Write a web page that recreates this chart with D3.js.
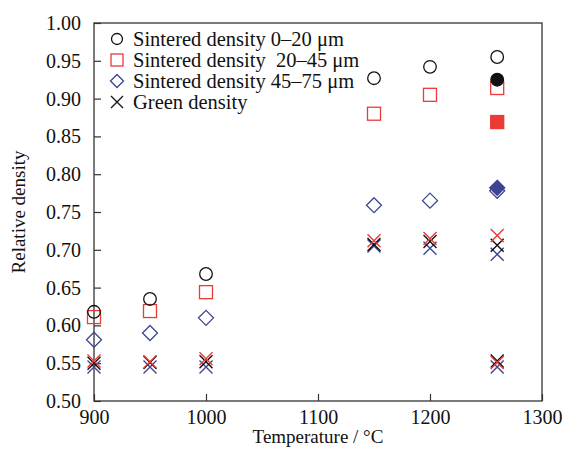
<html>
<head>
<meta charset="utf-8">
<script src="https://d3js.org/d3.v7.min.js"></script>
<style>
  body { margin: 0; background: #fff; }
  svg text { font-family: "Liberation Serif", "Times New Roman", serif !important; fill: #111; }
</style>
</head>
<body>
<div id="chart"></div>
<script>

// Sintering temperatures (°C)
var temps = [900, 950, 1000, 1150, 1200, 1260];

// Sintered density series (open markers)
var fine   = [0.618, 0.635, 0.668, 0.927, 0.942, 0.955];   // 0–20 µm
var medium = [0.611, 0.619, 0.644, 0.880, 0.905, 0.914];   // 20–45 µm
var coarse = [0.581, 0.590, 0.610, 0.759, 0.765, 0.778];   // 45–75 µm

// Filled markers at 1260 °C
var filledTemp = [1260];
var fineFilled = [0.925];
var mediumFilled = [0.869];
var coarseFilled = [0.782];

// Green density (crosses), one colour per powder
var greenTemps  = [900, 950, 1000, 1150, 1200, 1260, 1260];
var greenFine   = [0.550, 0.551, 0.552, 0.707, 0.711, 0.706, 0.553];
var greenMedium = [0.553, 0.552, 0.556, 0.712, 0.715, 0.719, 0.551];
var greenCoarse = [0.545, 0.545, 0.545, 0.705, 0.702, 0.694, 0.545];

var xTicks = [900, 1000, 1100, 1200, 1300];
var yTicks = [0.50, 0.55, 0.60, 0.65, 0.70, 0.75, 0.80, 0.85, 0.90, 0.95, 1.00];

var legendLabels = ["Sintered density 0\u201320 \u03bcm", "Sintered density\u00a0 20\u201345 \u03bcm",
                    "Sintered density 45\u201375 \u03bcm", "Green density"];

var black = "#111", red = "#ec3a35", blue = "#3d4592";
var serif = "'Liberation Serif', 'Times New Roman', serif";

var margin = {top: 23, right: 21, bottom: 49, left: 94};
var width = 563 - margin.left - margin.right;
var height = 450 - margin.top - margin.bottom;

var svg = d3.select("#chart")
  .append("svg")
    .attr("width", 563)
    .attr("height", 450)
  .append("g")
    .attr("transform", "translate(" + margin.left + "," + margin.top + ")");

var x = d3.scaleLinear().domain([900, 1300]).range([0, width]);
var y = d3.scaleLinear().domain([0.5, 1.0]).range([height, 0]);

// Axes (ticks point inward)
var xAxis = svg.append("g")
  .attr("transform", "translate(0," + height + ")")
  .call(d3.axisBottom(x).tickValues(xTicks).tickSize(-7).tickPadding(9).tickFormat(d3.format("d")));
var yAxis = svg.append("g")
  .call(d3.axisLeft(y).tickValues(yTicks).tickSize(-7).tickPadding(13).tickFormat(d3.format(".2f")));

[xAxis, yAxis].forEach(function(a) {
  a.attr("font-family", null).attr("font-size", null);
  a.select(".domain").remove();
  a.selectAll("line").attr("stroke", "#333").attr("stroke-width", 1.2);
  a.selectAll("text").attr("fill", "#111")
    .style("font-family", serif).style("font-size", "20px");
});

// frame
svg.append("rect")
  .attr("width", width).attr("height", height)
  .attr("fill", "none").attr("stroke", "#333").attr("stroke-width", 1.3);

// axis titles
svg.append("text")
  .attr("x", width / 2).attr("y", height + 42)
  .attr("text-anchor", "middle").style("font-size", "19px")
  .text("Temperature / \u00b0C");
svg.append("text")
  .attr("transform", "translate(-69," + (height / 2) + ")rotate(-90)")
  .attr("text-anchor", "middle").style("font-size", "19px")
  .text("Relative density");

// marker helpers
function circles(xs, ys, color, filled) {
  svg.append("g").selectAll("circle").data(ys).enter().append("circle")
    .attr("cx", function(d, i) { return x(xs[i]); })
    .attr("cy", function(d) { return y(d); })
    .attr("r", 6.3)
    .attr("fill", filled ? color : "none")
    .attr("stroke", color).attr("stroke-width", 1.3);
}
function squares(xs, ys, color, filled) {
  var s = 13;
  svg.append("g").selectAll("rect").data(ys).enter().append("rect")
    .attr("x", function(d, i) { return x(xs[i]) - s / 2; })
    .attr("y", function(d) { return y(d) - s / 2; })
    .attr("width", s).attr("height", s)
    .attr("fill", filled ? color : "none")
    .attr("stroke", color).attr("stroke-width", 1.3);
}
function diamonds(xs, ys, color, filled) {
  var h = 7.5;
  svg.append("g").selectAll("path").data(ys).enter().append("path")
    .attr("transform", function(d, i) { return "translate(" + x(xs[i]) + "," + y(d) + ")"; })
    .attr("d", "M0," + (-h) + "L" + h + ",0L0," + h + "L" + (-h) + ",0Z")
    .attr("fill", filled ? color : "none")
    .attr("stroke", color).attr("stroke-width", 1.3);
}
function crosses(xs, ys, color) {
  var h = 6.5;
  svg.append("g").selectAll("path").data(ys).enter().append("path")
    .attr("transform", function(d, i) { return "translate(" + x(xs[i]) + "," + y(d) + ")"; })
    .attr("d", "M" + (-h) + "," + (-h) + "L" + h + "," + h + "M" + h + "," + (-h) + "L" + (-h) + "," + h)
    .attr("fill", "none")
    .attr("stroke", color).attr("stroke-width", 1.4);
}

crosses(greenTemps, greenCoarse, blue);
crosses(greenTemps, greenFine, black);
crosses(greenTemps, greenMedium, red);

diamonds(temps, coarse, blue, false);
diamonds(filledTemp, coarseFilled, blue, true);
squares(temps, medium, red, false);
squares(filledTemp, mediumFilled, red, true);
circles(temps, fine, black, false);
circles(filledTemp, fineFilled, black, true);

// legend
var legend = svg.append("g").attr("transform", "translate(23,16)");
var rowH = 21;
legendLabels.forEach(function(label, i) {
  var g = legend.append("g").attr("transform", "translate(0," + (i * rowH) + ")");
  if (i === 0) g.append("circle").attr("r", 5.5).attr("fill", "none").attr("stroke", black).attr("stroke-width", 1.3);
  if (i === 1) g.append("rect").attr("x", -6).attr("y", -6).attr("width", 12).attr("height", 12).attr("fill", "none").attr("stroke", red).attr("stroke-width", 1.3);
  if (i === 2) g.append("path").attr("d", "M0,-6.5L6.5,0L0,6.5L-6.5,0Z").attr("fill", "none").attr("stroke", blue).attr("stroke-width", 1.3);
  if (i === 3) g.append("path").attr("d", "M-6,-6L6,6M6,-6L-6,6").attr("stroke", black).attr("stroke-width", 1.3);
  g.append("text").attr("x", 16).attr("y", 7).style("font-size", "20.5px").text(label);
});

</script>
</body>
</html>
